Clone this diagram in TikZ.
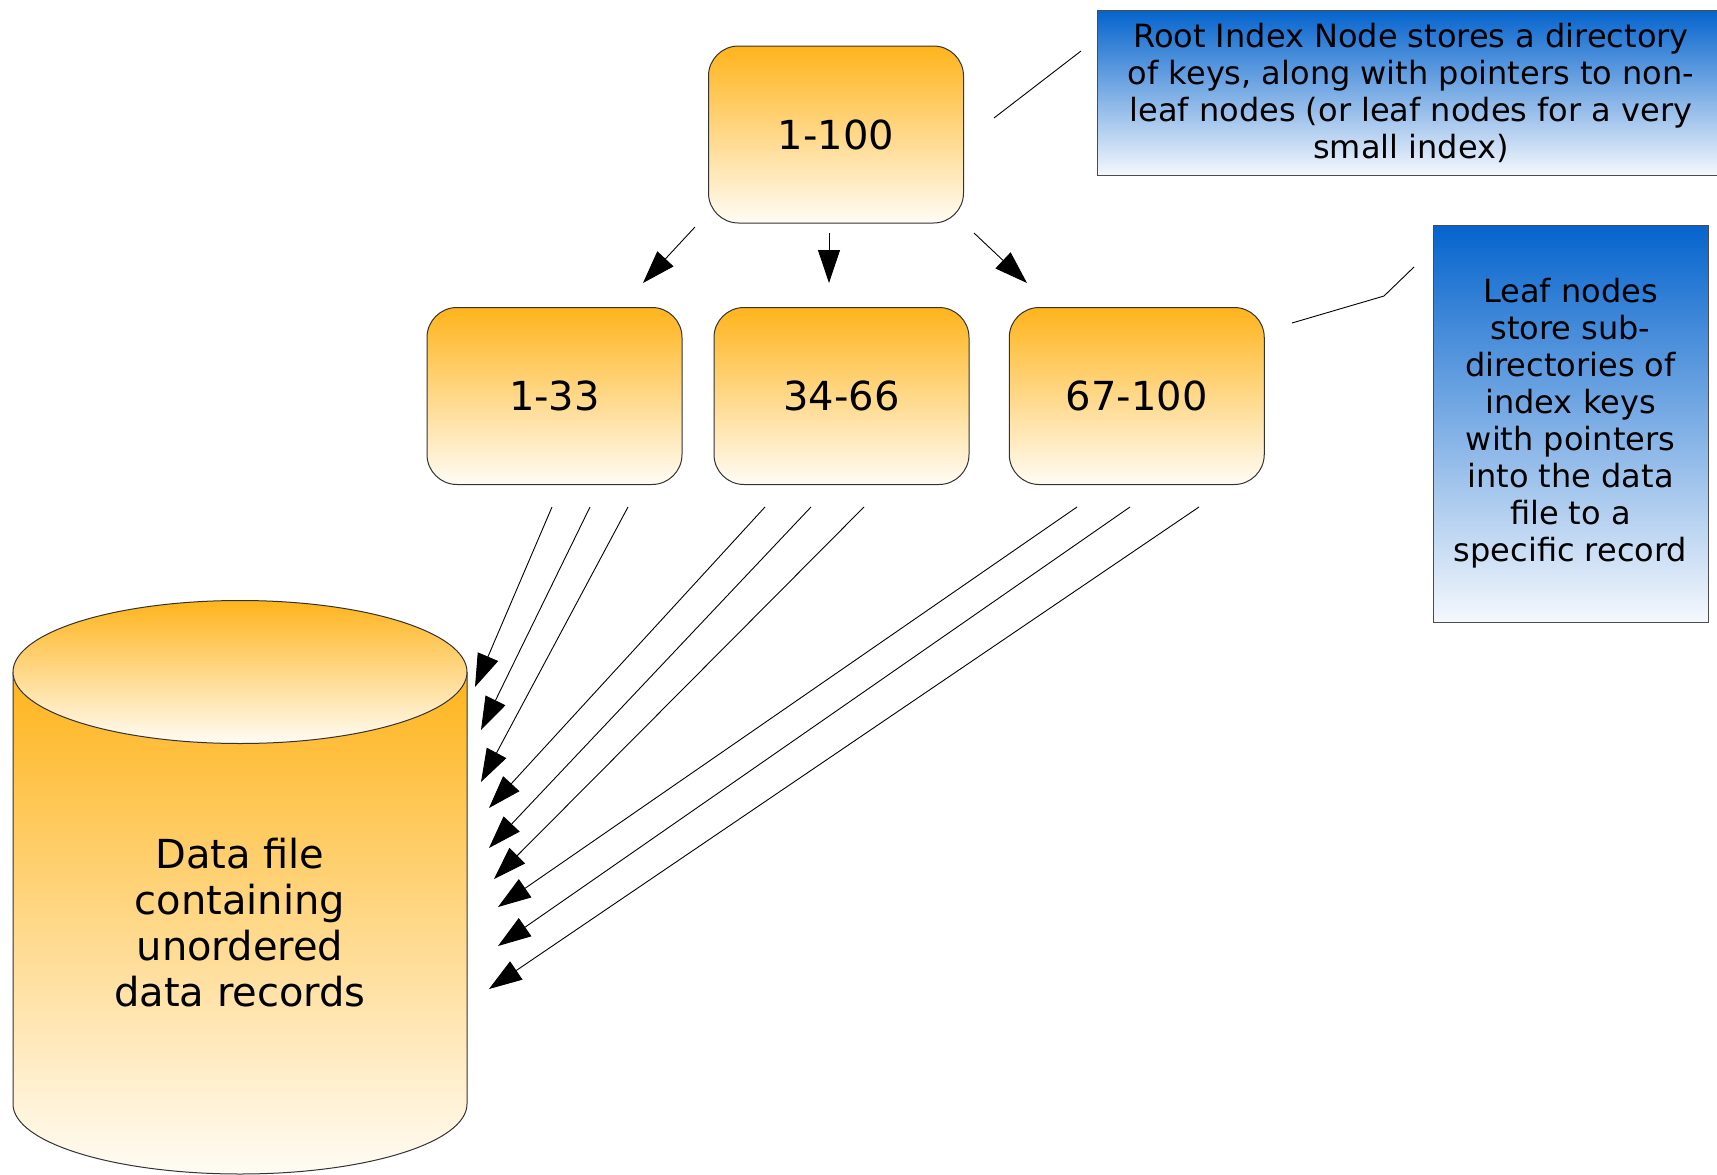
\documentclass[tikz,border=0pt]{standalone}
\usepackage{fontspec}
\setmainfont{DejaVu Sans}
\usetikzlibrary{arrows.meta}
\definecolor{boxtop}{RGB}{255,180,28}
\definecolor{boxbot}{RGB}{255,252,245}
\definecolor{notetop}{RGB}{5,100,205}
\definecolor{notebot}{RGB}{245,248,253}
\tikzset{
  keybox/.style={draw=black!80, line width=1pt, rounded corners=30pt,
    top color=boxtop, bottom color=boxbot,
    minimum width=255pt, minimum height=177pt, inner sep=0pt,
    font=\fontsize{40}{46}\selectfont},
  notebox/.style={draw=black!70, line width=1pt,
    top color=notetop, bottom color=notebot, align=center, inner sep=0pt,
    font=\fontsize{32}{37}\selectfont},
  ptr/.style={line width=0.9pt, -{Triangle[length=33pt,width=22pt]}},
  callout/.style={line width=0.9pt},
}
\begin{document}
\begin{tikzpicture}[x=1pt,y=-1pt]
\useasboundingbox (0,0) rectangle (1717,1175);

% index nodes
\node[keybox] (root) at (836,134.5) {1-100};
\node[keybox] (l1) at (554.5,396) {1-33};
\node[keybox] (l2) at (841.5,396) {34-66};
\node[keybox] (l3) at (1136.75,396) {67-100};

% root pointers
\coordinate (r1) at (695,227);  \coordinate (t1) at (643,283);
\coordinate (r2) at (829,233);  \coordinate (t2) at (829,283);
\coordinate (r3) at (974,233);  \coordinate (t3) at (1027,283);
\draw[ptr] (r1) -- (t1);
\draw[ptr] (r2) -- (t2);
\draw[ptr] (r3) -- (t3);

% data file cylinder
\path[draw=black!80, line width=1pt, top color=boxtop, bottom color=boxbot]
  (13,672) -- (13,1104) arc[start angle=180, end angle=0, x radius=227, y radius=70]
  -- (467,672);
\path[draw=black!80, line width=1pt, top color=boxtop, bottom color=boxbot]
  (240,672) ellipse[x radius=227, y radius=71.5];
\node[align=center, font=\fontsize{40}{46}\selectfont] (data) at (240,923)
  {Data file\\containing\\unordered\\data records};

% leaf pointers into the data file
\foreach \i/\sx/\tx/\ty in {1/552/475/687, 2/590/481/730, 3/628/481/782,
                            4/765/489/808, 5/811/489/848, 6/864/494/879,
                            7/1077/498/907, 8/1130/498/946, 9/1199/489/989}{
  \coordinate (ds\i) at (\sx,507);
  \coordinate (dt\i) at (\tx,\ty);
  \draw[ptr] (ds\i) -- (dt\i);
}

% notes
\node[notebox, minimum width=628pt, minimum height=165pt] (rootnote) at (1411,93)
  {Root Index Node stores a directory\\of keys, along with pointers to non-\\leaf nodes (or leaf nodes for a very\\small index)};
\node[notebox, minimum width=275pt, minimum height=397pt] (leafnote) at (1570.5,423.5)
  {Leaf nodes\\store sub-\\directories of\\index keys\\with pointers\\into the data\\file to a\\specific record};

% callout lines
\coordinate (c1a) at (994,118);
\coordinate (c1b) at (1081,51);
\draw[callout] (c1a) -- (c1b);
\coordinate (c2a) at (1292,323);
\coordinate (c2b) at (1384,296);
\coordinate (c2c) at (1414,267);
\draw[callout] (c2a) -- (c2b) -- (c2c);
\end{tikzpicture}
\end{document}
